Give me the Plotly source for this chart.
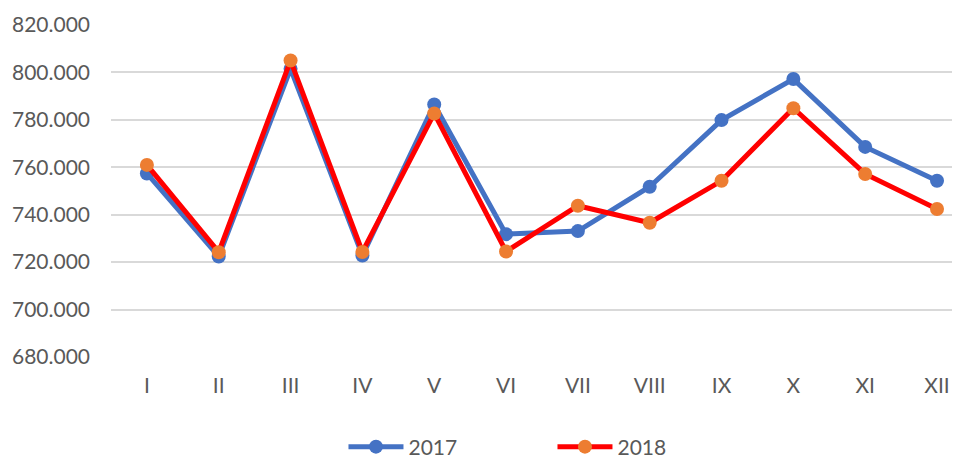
import plotly.graph_objects as go

months = ["I", "II", "III", "IV", "V", "VI", "VII", "VIII", "IX", "X", "XI", "XII"]
values_2017 = [757.4, 722.4, 801.5, 722.8, 786.5, 731.8, 733.1, 751.8, 779.9, 797.2, 768.6, 754.3]
values_2018 = [761.0, 724.2, 805.0, 724.3, 782.7, 724.5, 743.8, 736.6, 754.3, 784.9, 757.2, 742.4]
y_ticks = [680, 700, 720, 740, 760, 780, 800, 820]
y_tick_labels = ["680.000", "700.000", "720.000", "740.000", "760.000", "780.000", "800.000", "820.000"]

font_family = "Lato, 'Open Sans', sans-serif"
grey = "#595959"

fig = go.Figure()
fig.add_trace(go.Scatter(
    x=list(range(len(months))), y=values_2017, name="2017", mode="lines+markers",
    line=dict(color="#4472C4", width=5),
    marker=dict(color="#4472C4", size=14),
))
fig.add_trace(go.Scatter(
    x=list(range(len(months))), y=values_2018, name="2018", mode="lines+markers",
    line=dict(color="#FF0000", width=5),
    marker=dict(color="#ED7D31", size=14),
))

# page body has an 8px default margin, so the figure is drawn 8px smaller and offset
fig.update_layout(
    width=952, height=450,
    margin=dict(l=103, r=0, t=17, b=101),
    paper_bgcolor="white", plot_bgcolor="white",
    font=dict(family=font_family, size=21, color=grey),
    showlegend=True,
    legend=dict(
        orientation="h", x=0.52, xanchor="center",
        yref="container", y=0.0244, yanchor="middle",
        font=dict(family=font_family, size=21, color=grey),
        entrywidth=139, entrywidthmode="pixels", itemwidth=55,
        bgcolor="rgba(0,0,0,0)",
    ),
    xaxis=dict(
        tickmode="array", tickvals=list(range(len(months))), ticktext=months,
        range=[-0.5, 11.32], showgrid=False, zeroline=False, showline=False,
        ticks="", ticklabelstandoff=14, automargin=False,
        tickfont=dict(family=font_family, size=21, color=grey),
    ),
    yaxis=dict(
        range=[680, 820], tickmode="array", tickvals=y_ticks, ticktext=y_tick_labels,
        showgrid=True, gridcolor="#D9D9D9", gridwidth=2, zeroline=False, showline=False,
        ticks="", ticklabelstandoff=20, automargin=False,
        tickfont=dict(family=font_family, size=21, color=grey),
    ),
)

fig.write_html("out.html")
